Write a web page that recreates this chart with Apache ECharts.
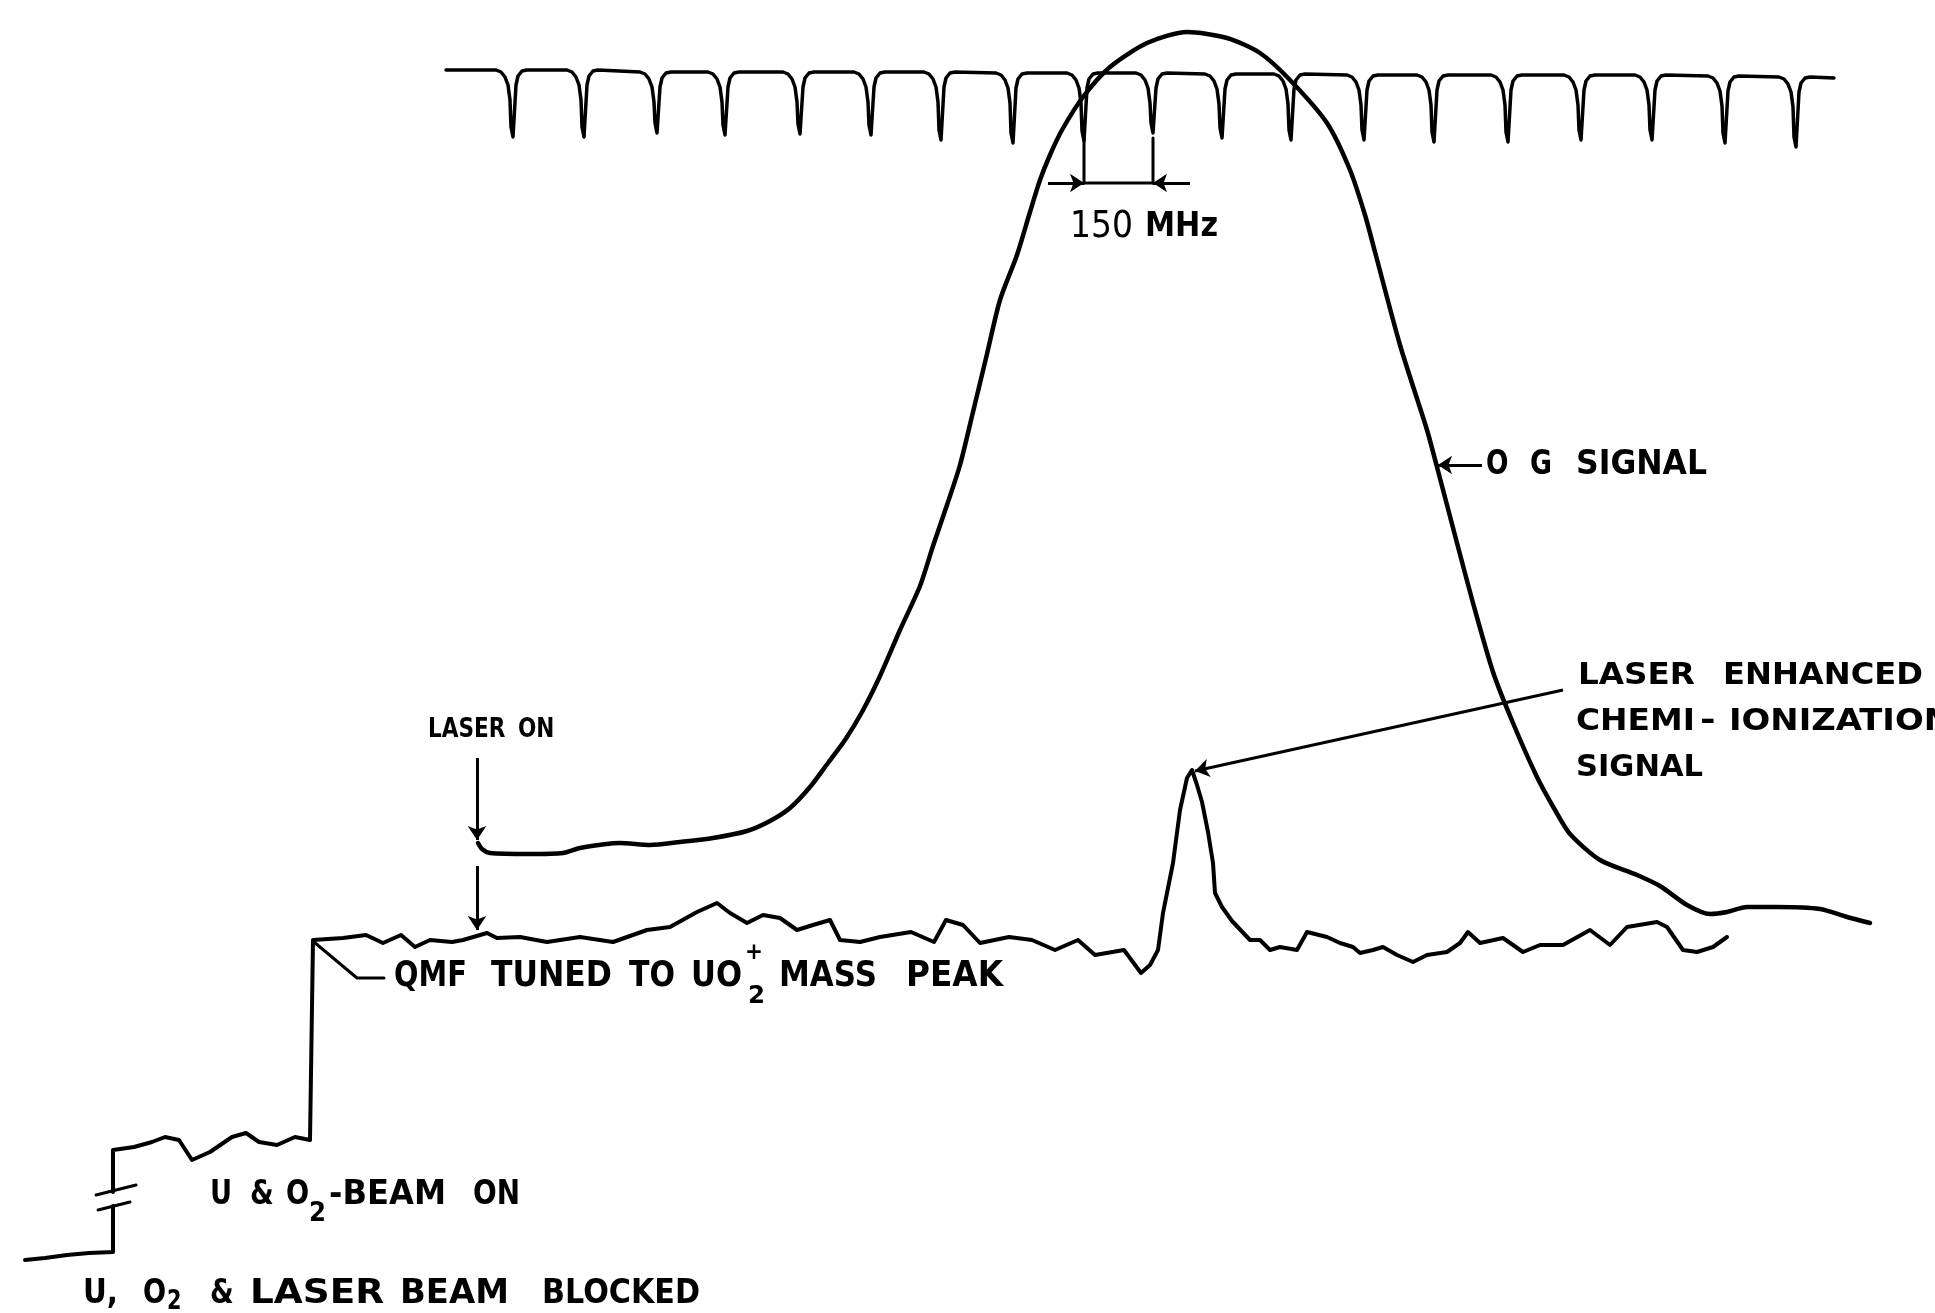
<!DOCTYPE html>
<html>
<head>
<meta charset="utf-8">
<script src="https://cdn.jsdelivr.net/npm/echarts@6/dist/echarts.min.js"></script>
<style>
  html, body { margin: 0; padding: 0; background: #fff; }
  #chart { width: 1935px; height: 1313px; }
</style>
</head>
<body>
<div id="chart"></div>
<script>
// ---- data (x = scan position, y = detector signal, drawn downwards) ----

// etalon fringe trace at the top (150 MHz free spectral range)
var etalonStart = [446, 70];
var etalonEnd = [1834, 78];
var etalonDipX = [513, 584, 657, 725, 800, 871, 941, 1013, 1084, 1153, 1222, 1291, 1364, 1434, 1508, 1581, 1652, 1725, 1796];
var etalonBase = [70, 70, 72, 72, 72, 72, 72, 73, 73, 73, 74, 74, 75, 75, 75, 75, 75, 76, 77];
var etalonBottom = [137, 137, 133, 135, 134, 135, 140, 143, 141, 133, 138, 140, 140, 142, 142, 140, 140, 143, 147];

// optogalvanic signal
var ogSignal = [
  [478, 843], [482, 849], [490, 853], [530, 854], [563, 853], [580, 848], [620, 843], [650, 845],
  [680, 842], [713, 838], [747, 831], [770, 821], [790, 808], [810, 787], [828, 763], [845, 740],
  [862, 712], [880, 676], [900, 630], [920, 586], [933, 546], [947, 505], [960, 465], [973, 412],
  [987, 354], [1000, 300], [1017, 255], [1030, 212], [1040, 180], [1050, 155], [1062, 130], [1083, 97],
  [1110, 67], [1147, 43], [1187, 32], [1227, 38], [1260, 53], [1290, 80], [1327, 123], [1350, 170],
  [1365, 215], [1375, 252], [1400, 345], [1427, 430], [1437, 467], [1457, 543], [1473, 603], [1493, 672],
  [1513, 723], [1537, 777], [1555, 810], [1570, 834], [1600, 860], [1637, 875], [1660, 886], [1687, 905],
  [1710, 914], [1727, 912], [1747, 907], [1777, 907], [1820, 909], [1847, 917], [1870, 923]
];

// QMF ion signal: beams blocked, then (after the break) U & O2 on, then laser on
var qmfBlocked = [[25, 1260], [45, 1258], [67, 1255], [89, 1253], [113, 1252], [113, 1206]];
var qmfTrace = [
  [113, 1192], [113, 1150], [134, 1147], [152, 1142], [165, 1137], [179, 1140], [192, 1160], [210, 1152],
  [232, 1137], [246, 1133], [259, 1142], [277, 1145], [295, 1137], [310, 1140], [312, 1140], [313, 940],
  [343, 938], [366, 935], [383, 943], [401, 935], [415, 947], [430, 940], [452, 942], [463, 940],
  [487, 933], [497, 938], [520, 937], [547, 942], [580, 937], [613, 942], [647, 930], [670, 927],
  [697, 912], [717, 903], [730, 913], [747, 923], [763, 915], [780, 918], [797, 930], [813, 925],
  [830, 920], [840, 940], [860, 942], [880, 937], [911, 932], [934, 942], [946, 920], [963, 925],
  [980, 943], [1009, 937], [1032, 940], [1055, 950], [1078, 940], [1095, 955], [1124, 950], [1141, 973],
  [1150, 965], [1158, 950], [1163, 913], [1173, 863], [1180, 810], [1187, 778], [1192, 770], [1197, 785],
  [1202, 802], [1208, 832], [1213, 863], [1215, 893], [1222, 907], [1232, 921], [1250, 940], [1260, 940],
  [1270, 950], [1280, 947], [1297, 950], [1307, 932], [1327, 937], [1340, 943], [1353, 947], [1360, 953],
  [1373, 950], [1383, 947], [1397, 955], [1413, 962], [1427, 955], [1447, 952], [1460, 943], [1468, 932],
  [1480, 943], [1503, 938], [1523, 952], [1540, 945], [1563, 945], [1590, 930], [1610, 945], [1627, 927],
  [1657, 922], [1667, 927], [1683, 950], [1697, 952], [1713, 947], [1727, 937]
];

// ---- annotation geometry (arrows, leaders) ----
var arrows = [
  [[477, 758], [477, 840]],      // laser on -> OG trace
  [[477, 866], [477, 930]],      // laser on -> QMF trace
  [[1048, 183], [1084, 183]],    // 150 MHz marker
  [[1190, 183], [1153, 183]],
  [[1482, 465], [1438, 465]],    // O G signal
  [[1563, 690], [1195, 771]]     // chemi-ionization peak
];
var plainLines = [
  [[1084, 136], [1084, 183]],
  [[1153, 138], [1153, 183]],
  [[1084, 183], [1153, 183]],
  [[314, 942], [357, 978], [384, 978]],
  [[96, 1195], [136, 1185]],
  [[98, 1210], [130, 1202]]
];

// words: [text, left, right, centre y, cap height, weight]
var words = [
  ['150', 1070, 1133, 227, 27, 'normal'], ['MHz', 1145, 1218, 227, 25, 'bold'],
  ['O', 1486, 1507, 465, 24, 'bold'], ['G', 1530, 1552, 465, 24, 'bold'], ['SIGNAL', 1576, 1707, 465, 24, 'bold'],
  ['LASER', 1578, 1695, 676, 22, 'bold'], ['ENHANCED', 1723, 1923, 676, 22, 'bold'],
  ['CHEMI', 1576, 1695, 722, 22, 'bold'], ['-', 1700, 1718, 722, 22, 'bold'], ['IONIZATION', 1729, 1952, 722, 22, 'bold'],
  ['SIGNAL', 1576, 1703, 768, 22, 'bold'],
  ['LASER', 428, 500, 730, 20, 'bold'], ['ON', 518, 552, 730, 20, 'bold'],
  ['QMF', 394, 466, 977, 26, 'bold'], ['TUNED', 491, 612, 977, 26, 'bold'], ['TO', 629, 675, 977, 26, 'bold'],
  ['UO', 691, 742, 977, 26, 'bold'], ['+', 745, 763, 953, 17, 'bold'], ['2', 748, 765, 996, 18, 'bold'],
  ['MASS', 779, 877, 977, 26, 'bold'], ['PEAK', 906, 1003, 977, 26, 'bold'],
  ['U', 210, 228, 1195, 25, 'bold'], ['&', 250, 272, 1195, 25, 'bold'], ['O', 286, 308, 1195, 25, 'bold'],
  ['2', 309, 326, 1214, 19, 'bold'], ['-BEAM', 329, 446, 1195, 25, 'bold'], ['ON', 473, 520, 1195, 25, 'bold'],
  ['U,', 83, 118, 1294, 25, 'bold'], ['O', 143, 166, 1294, 25, 'bold'], ['2', 167, 181, 1302, 19, 'bold'],
  ['&', 210, 232, 1294, 25, 'bold'], ['LASER', 250, 384, 1294, 25, 'bold'], ['BEAM', 400, 509, 1294, 25, 'bold'],
  ['BLOCKED', 542, 700, 1294, 25, 'bold']
];

// ---- build series ----
function etalonPoints() {
  var pts = [etalonStart];
  for (var i = 0; i < etalonDipX.length; i++) {
    var c = etalonDipX[i], b = etalonBase[i], d = etalonBottom[i];
    pts.push([c - 17, b], [c - 12, b + 2], [c - 8, b + 7], [c - 5, b + 15], [c - 3, b + 30],
      [c - 2, d - 10], [c, d], [c + 2, d], [c + 3, b + 15], [c + 5, b + 6], [c + 9, b + 1], [c + 14, b]);
  }
  pts.push(etalonEnd);
  return pts;
}

function trace(name, data, smooth, width) {
  return {
    name: name,
    type: 'line',
    data: data,
    symbol: 'none',
    smooth: smooth,
    silent: true,
    lineStyle: { color: '#000', width: width || 4, join: 'round', cap: 'round' },
    z: 3
  };
}

var series = [
  trace('etalon', etalonPoints(), false, 3.5),
  trace('OG signal', ogSignal, 0.25, 4.5),
  trace('QMF blocked', qmfBlocked, false, 4),
  trace('QMF', qmfTrace, false, 4)
];
plainLines.forEach(function (l, i) {
  series.push(trace('line' + i, l, false, 3));
});
series.push({
  type: 'lines',
  coordinateSystem: 'cartesian2d',
  symbol: ['none', 'arrow'],
  symbolSize: 14,
  silent: true,
  lineStyle: { color: '#000', width: 3, opacity: 1, curveness: 0 },
  data: arrows.map(function (a) { return { coords: a }; }),
  z: 4
});

var chart = echarts.init(document.getElementById('chart'));
chart.setOption({
  backgroundColor: '#fff',
  animation: false,
  grid: { left: 0, right: 0, top: 0, bottom: 0 },
  xAxis: { type: 'value', min: 0, max: 1935, show: false },
  yAxis: { type: 'value', min: 0, max: 1313, inverse: true, show: false },
  series: series
});

// lettering: each word is sized to its cap height and stretched (a little) to its drawn width
var ctx = document.createElement('canvas').getContext('2d');
var family = '"DejaVu Sans", sans-serif';
function measure(str, size, weight) {
  ctx.font = weight + ' ' + size + 'px ' + family;
  return ctx.measureText(str).width;
}

var graphic = words.map(function (w) {
  var left = chart.convertToPixel({ gridIndex: 0 }, [w[1], w[3]]);
  var right = chart.convertToPixel({ gridIndex: 0 }, [w[2], w[3]]);
  var size = Math.round(w[4] / 0.73);
  var natural = measure(w[0], size, w[5]);
  var sx = Math.min(1.25, Math.max(0.8, (right[0] - left[0]) / natural));
  return {
    type: 'text',
    x: left[0],
    y: left[1],
    scaleX: sx,
    silent: true,
    style: {
      text: w[0],
      fontSize: size,
      fontWeight: w[5],
      fontFamily: family,
      fill: '#000',
      align: 'left',
      verticalAlign: 'middle'
    }
  };
});
chart.setOption({ graphic: graphic });
</script>
</body>
</html>
